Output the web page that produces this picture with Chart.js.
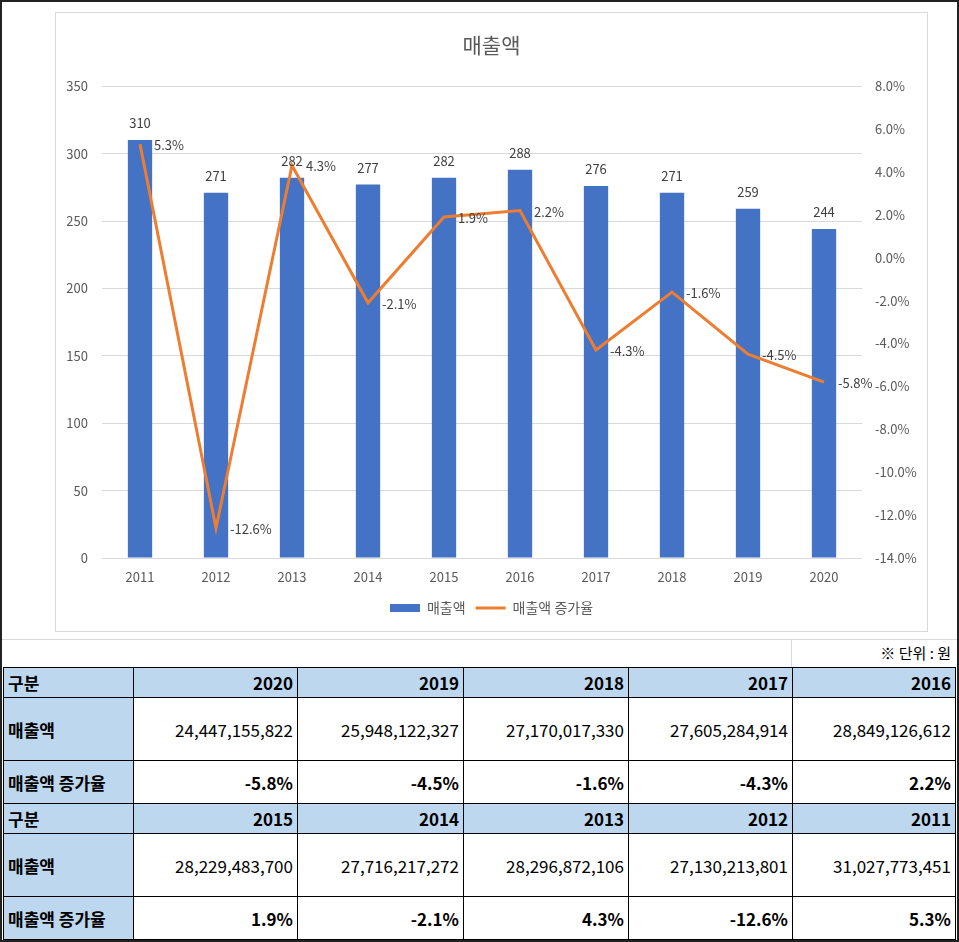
<!DOCTYPE html>
<html>
<head>
<meta charset="utf-8">
<script src="https://cdn.jsdelivr.net/npm/chart.js@4.4.0/dist/chart.umd.min.js"></script>
<style>
  body { margin: 0; background: #fff; font-family: "Noto Sans CJK KR", sans-serif; }
  #page { position: relative; width: 959px; height: 942px; border: 2px solid #222; box-sizing: border-box; overflow: hidden; }
  #chartBox { position: absolute; left: 53px; top: 10px; width: 873px; height: 620px; border: 1px solid #d9d9d9; box-sizing: border-box; }
  #chartBox canvas { display: block; }
  .gl { position: absolute; background: #d9d9d9; }
  #unit { position: absolute; right: 6px; top: 640px; font-size: 15px; color: #000; }
  table { position: absolute; left: 1px; top: 665px; border-collapse: collapse; table-layout: fixed; }
  td { border: 1px solid #000; font-size: 17px; color: #000; padding: 0 4px; white-space: nowrap; overflow: hidden; }
  td.h { background: #bdd7ee; font-weight: bold; text-align: right; }
  td.lab { background: #bdd7ee; font-weight: bold; text-align: left; }
  td.v { text-align: right; }
  td.b { text-align: right; font-weight: bold; }
</style>
</head>
<body>
<div id="page">
  <div id="chartBox"><canvas id="myChart" width="871" height="618"></canvas></div>
  <div class="gl" style="left:0; top:637px; width:959px; height:1px;"></div>
  <div class="gl" style="left:789px; top:637px; width:1px; height:28px;"></div>
  <div id="unit">※ 단위 : 원</div>
  <table id="tbl"></table>
</div>
<script>
// chart data (매출액: 억원)
var years = ['2011', '2012', '2013', '2014', '2015', '2016', '2017', '2018', '2019', '2020'];
var sales = [310, 271, 282, 277, 282, 288, 276, 271, 259, 244];
var growth = [5.3, -12.6, 4.3, -2.1, 1.9, 2.2, -4.3, -1.6, -4.5, -5.8];

// table data
var tableYears1 = ['2020', '2019', '2018', '2017', '2016'];
var tableSales1 = ['24,447,155,822', '25,948,122,327', '27,170,017,330', '27,605,284,914', '28,849,126,612'];
var tableGrowth1 = ['-5.8%', '-4.5%', '-1.6%', '-4.3%', '2.2%'];
var tableYears2 = ['2015', '2014', '2013', '2012', '2011'];
var tableSales2 = ['28,229,483,700', '27,716,217,272', '28,296,872,106', '27,130,213,801', '31,027,773,451'];
var tableGrowth2 = ['1.9%', '-2.1%', '4.3%', '-12.6%', '5.3%'];

var font = '"Noto Sans CJK KR", sans-serif';

// build table
var colW = [130, 164, 166, 165, 164, 163];
var tbl = document.getElementById('tbl');
var html = '<colgroup>' + colW.map(function(w) { return '<col style="width:' + w + 'px">'; }).join('') + '</colgroup>';
function block(ys, ss, gs) {
    var s = '<tr style="height:30px"><td class="lab">구분</td>' + ys.map(function(y) { return '<td class="h">' + y + '</td>'; }).join('') + '</tr>';
    s += '<tr style="height:63px"><td class="lab">매출액</td>' + ss.map(function(v) { return '<td class="v">' + v + '</td>'; }).join('') + '</tr>';
    s += '<tr style="height:43px"><td class="lab">매출액 증가율</td>' + gs.map(function(v) { return '<td class="b">' + v + '</td>'; }).join('') + '</tr>';
    return s;
}
html += block(tableYears1, tableSales1, tableGrowth1) + block(tableYears2, tableSales2, tableGrowth2);
tbl.innerHTML = html;

// data labels
var valueLabels = {
    id: 'valueLabels',
    afterDatasetsDraw: function(chart) {
        var ctx = chart.ctx;
        ctx.save();
        ctx.font = '13px ' + font;
        ctx.fillStyle = '#404040';
        chart.getDatasetMeta(0).data.forEach(function(bar, i) {
            ctx.textAlign = 'center';
            ctx.textBaseline = 'middle';
            ctx.fillText(sales[i], bar.x, bar.y - 17);
        });
        chart.getDatasetMeta(1).data.forEach(function(pt, i) {
            ctx.textAlign = 'left';
            ctx.textBaseline = 'middle';
            ctx.fillText(growth[i].toFixed(1) + '%', pt.x + 14, pt.y + 1);
        });
        ctx.restore();
    }
};

var ctx = document.getElementById('myChart').getContext('2d');
var chart = new Chart(ctx, {
    data: {
        labels: years,
        datasets: [
            {
                type: 'bar',
                label: '매출액',
                data: sales,
                yAxisID: 'y',
                backgroundColor: '#4472c4',
                barPercentage: 0.32,
                categoryPercentage: 1,
                order: 1
            },
            {
                type: 'line',
                label: '매출액 증가율',
                data: growth,
                yAxisID: 'y1',
                borderColor: '#ed7d31',
                backgroundColor: '#ed7d31',
                borderWidth: 3,
                pointRadius: 0,
                tension: 0,
                order: 0
            }
        ]
    },
    options: {
        responsive: false,
        animation: false,
        devicePixelRatio: 1,
        layout: { padding: { top: 0, bottom: 6, left: 0, right: 0 } },
        plugins: {
            title: {
                display: true,
                text: '매출액',
                color: '#595959',
                font: { family: font, size: 21, weight: 'normal' },
                padding: { top: 19, bottom: 29 }
            },
            legend: {
                position: 'bottom',
                labels: {
                    color: '#595959',
                    font: { family: font, size: 14 },
                    usePointStyle: true,
                    pointStyleWidth: 30,
                    boxWidth: 30,
                    boxHeight: 8,
                    padding: 10,
                    sort: function(a, b) { return a.datasetIndex - b.datasetIndex; },
                    generateLabels: function(c) {
                        var items = Chart.defaults.plugins.legend.labels.generateLabels(c);
                        items.forEach(function(it) {
                            if (it.datasetIndex === 0) {
                                it.pointStyle = 'rect';
                                it.fillStyle = '#4472c4';
                                it.lineWidth = 0;
                            } else {
                                it.pointStyle = 'line';
                                it.strokeStyle = '#ed7d31';
                                it.lineWidth = 3;
                            }
                        });
                        return items;
                    }
                }
            },
            tooltip: { enabled: false }
        },
        scales: {
            x: {
                grid: { display: false, drawTicks: false },
                border: { display: false },
                ticks: { color: '#595959', font: { family: font, size: 13 }, padding: 11 },
                afterFit: function(s) { s.height = 33; }
            },
            y: {
                position: 'left',
                min: 0,
                max: 350,
                ticks: { stepSize: 50, color: '#595959', font: { family: font, size: 13 }, padding: 14 },
                grid: { color: '#d9d9d9', drawTicks: false },
                border: { display: false },
                afterFit: function(s) { s.width = 46; }
            },
            y1: {
                position: 'right',
                min: -14,
                max: 8,
                ticks: {
                    stepSize: 2,
                    color: '#595959',
                    font: { family: font, size: 13 },
                    padding: 13,
                    callback: function(v) { return v.toFixed(1) + '%'; }
                },
                grid: { display: false, drawTicks: false },
                border: { display: false },
                afterFit: function(s) { s.width = 65; }
            }
        }
    },
    plugins: [valueLabels]
});
</script>
</body>
</html>
